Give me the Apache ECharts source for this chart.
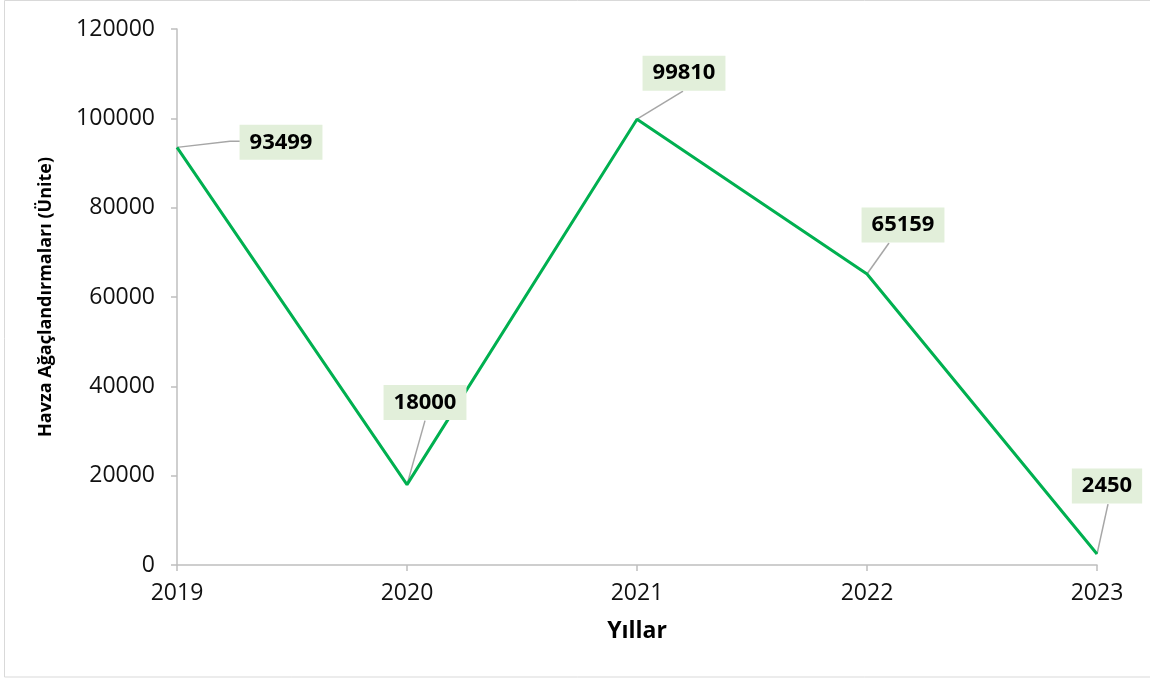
<!DOCTYPE html>
<html>
<head>
<meta charset="utf-8">
<script src="https://cdn.jsdelivr.net/npm/echarts@6/dist/echarts.min.js"></script>
<style>
  html, body { margin: 0; padding: 0; background: #fff; }
  #chart { width: 1150px; height: 679px; }
</style>
</head>
<body>
<div id="chart"></div>
<script>
// Yearly watershed afforestation figures
const years = ['2019', '2020', '2021', '2022', '2023'];
const plantings = [93499, 18000, 99810, 65159, 2450];
const yTicks = { min: 0, max: 120000, interval: 20000 };

// Pixel offsets from each point to the centre of its callout box
const calloutShift = [[104, -5], [18, -82], [47, -46], [36, -49], [10, -68]];
// Leader line bend points (pixel offsets from the data point) ending at the callout
const leaderPath = [
  [[53, -6], [63, -6]],
  [[18, -64]],
  [[46, -28]],
  [[22, -31]],
  [[11, -50]]
];

const chart = echarts.init(document.getElementById('chart'), null, { renderer: 'canvas' });
const FONT = '"Open Sans", "Noto Sans", sans-serif';

chart.setOption({
  backgroundColor: '#fff',
  animation: false,
  textStyle: { fontFamily: FONT },
  grid: { left: 177, right: 53, top: 29, bottom: 114 },
  graphic: [{
    type: 'rect',
    shape: { x: 4.5, y: 0.5, width: 1150, height: 676.5 },
    style: { fill: 'none', stroke: '#d9d9d9', lineWidth: 1 },
    silent: true
  }],
  xAxis: {
    type: 'category',
    data: years,
    boundaryGap: false,
    name: 'Yıllar',
    nameLocation: 'middle',
    nameGap: 55,
    nameTextStyle: { fontFamily: FONT, fontSize: 23, fontWeight: 'bold', color: '#000' },
    axisLine: { lineStyle: { color: '#bfbfbf', width: 1.5 } },
    axisTick: { show: true, alignWithLabel: true, length: 6, lineStyle: { color: '#bfbfbf', width: 1.5 } },
    axisLabel: { fontFamily: FONT, fontSize: 23, color: '#111', margin: 17 },
    splitLine: { show: false }
  },
  yAxis: {
    type: 'value',
    min: yTicks.min,
    max: yTicks.max,
    interval: yTicks.interval,
    name: 'Havza Ağaçlandırmaları (Ünite)',
    nameLocation: 'middle',
    nameGap: 122,
    nameTextStyle: { fontFamily: FONT, fontSize: 18, fontWeight: 'bold', color: '#000' },
    axisLine: { show: true, lineStyle: { color: '#bfbfbf', width: 1.5 } },
    axisTick: { show: true, length: 6, lineStyle: { color: '#bfbfbf', width: 1.5 } },
    axisLabel: {
      fontFamily: FONT, fontSize: 23, color: '#111', margin: 22,
      formatter: function (v) { return String(v); }
    },
    splitLine: { show: false }
  },
  series: [
    {
      // leader lines from each point to its callout
      type: 'custom',
      z: 1,
      silent: true,
      data: plantings.map(function (v, i) { return [i, v]; }),
      renderItem: function (params, api) {
        const i = params.dataIndex;
        const p = api.coord([api.value(0), api.value(1)]);
        const pts = [p].concat(leaderPath[i].map(function (o) { return [p[0] + o[0], p[1] + o[1]]; }));
        return {
          type: 'polyline',
          shape: { points: pts },
          style: { fill: null, stroke: '#a6a6a6', lineWidth: 1.5 }
        };
      }
    },
    {
      type: 'line',
      z: 2,
      data: plantings,
      symbol: 'circle',
      symbolSize: 0.1,
      showSymbol: true,
      itemStyle: { color: '#00b050' },
      lineStyle: { color: '#00b050', width: 3 },
      label: {
        show: true,
        position: 'inside',
        fontFamily: FONT,
        fontSize: 22,
        fontWeight: 'bold',
        color: '#000',
        backgroundColor: '#e2efda',
        padding: [7, 10, 6, 10]
      },
      labelLayout: function (params) {
        const s = calloutShift[params.dataIndex];
        return { dx: s[0], dy: s[1] };
      }
    }
  ]
});
</script>
</body>
</html>
